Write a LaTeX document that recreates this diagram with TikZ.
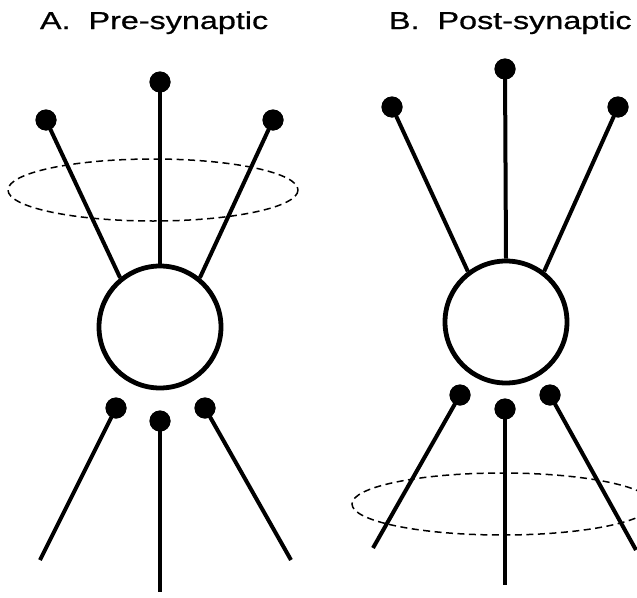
\documentclass[tikz,border=0pt]{standalone}
\usepackage{fontspec}
\newfontfamily\titlefont[FakeStretch=1.32,FakeBold=0.8]{Liberation Sans}
\usetikzlibrary{calc}

\begin{document}
\begin{tikzpicture}[x=1pt,y=-1pt,line width=4pt,
  cell node/.style={circle,draw,line width=4.8pt,inner sep=0pt,minimum size=122pt},
  dot node/.style={circle,fill=black,inner sep=0pt,minimum size=21pt},
  field/.style={line width=1.5pt,dash pattern=on 7pt off 4.5pt},
  title/.style={anchor=base west,inner sep=0pt,font=\titlefont\fontsize{24.5}{24.5}\selectfont}]

\useasboundingbox (0,0) rectangle (637,597);

% A. pre-synaptic
\node[title](TA) at (38,29) {A.\ \ Pre-synaptic};
\node[cell node](CA) at (160,327) {};
\node[dot node](TA1) at (46,120) {};
\node[dot node](TA2) at (160,82) {};
\node[dot node](TA3) at (273,120) {};
\node[dot node](BA1) at (116,408) {};
\node[dot node](BA2) at (160,421) {};
\node[dot node](BA3) at (205,408) {};
\coordinate (EA1) at (40,560);
\coordinate (EA2) at (160,592);
\coordinate (EA3) at (291,560);
\draw[field] (153,190) ellipse (145 and 31);

\path
(TA1.center) edge (CA.129)
(TA2.center) edge (CA.north)
(TA3.center) edge (CA.51)
(BA1.center) edge (EA1)
(BA2.center) edge (EA2)
(BA3.center) edge (EA3);

% B. post-synaptic
\node[title](TB) at (387,29) {B.\ \ Post-synaptic};
\node[cell node](CB) at (506,322) {};
\node[dot node](TB1) at (392,107) {};
\node[dot node](TB2) at (505,69) {};
\node[dot node](TB3) at (618,107) {};
\node[dot node](BB1) at (460,395) {};
\node[dot node](BB2) at (505,409) {};
\node[dot node](BB3) at (550,395) {};
\coordinate (EB1) at (373,548);
\coordinate (EB2) at (505,585);
\coordinate (EB3) at (636,550);
\draw[field] (502,504) ellipse (150 and 31);

\path
(TB1.center) edge (CB.127)
(TB2.center) edge (CB.north)
(TB3.center) edge (CB.53)
(BB1.center) edge (EB1)
(BB2.center) edge (EB2)
(BB3.center) edge (EB3);

% redraw dots on top of the lines
\foreach \d in {TA1,TA2,TA3,BA1,BA2,BA3,TB1,TB2,TB3,BB1,BB2,BB3}
  \fill (\d) circle (10.5pt);

\end{tikzpicture}
\end{document}
